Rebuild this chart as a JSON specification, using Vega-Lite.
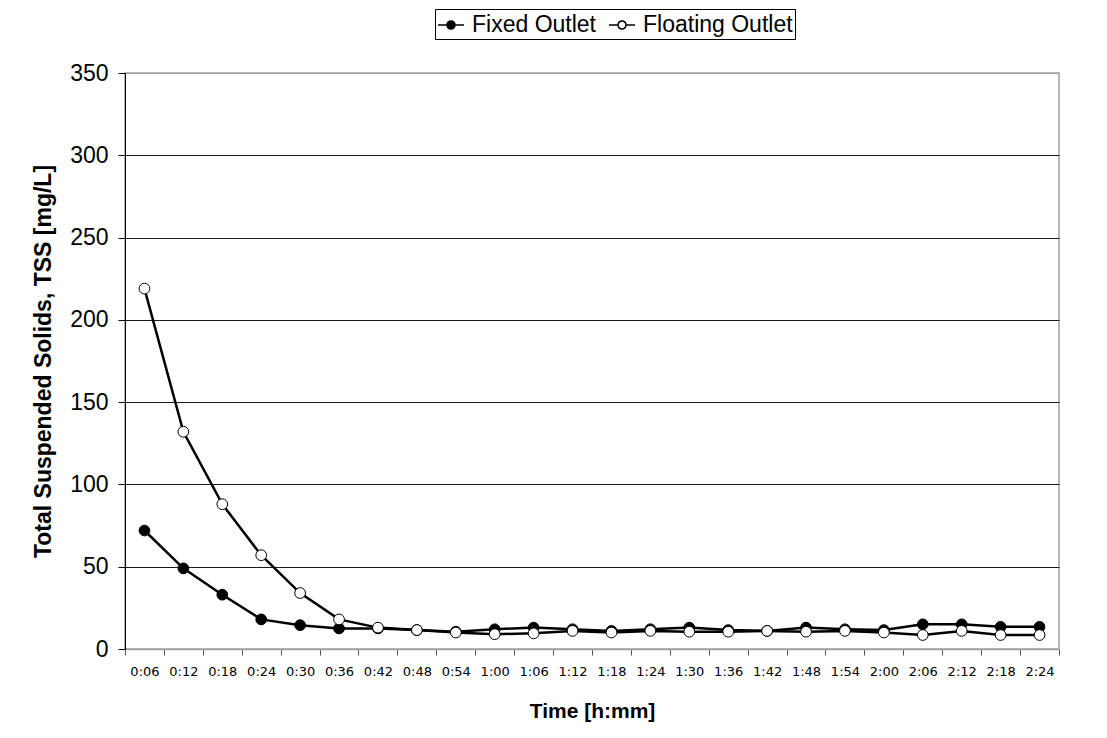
{
  "$schema": "https://vega.github.io/schema/vega-lite/v6.json",
  "width": 934,
  "height": 576,
  "autosize": {"type": "none"},
  "padding": {"left": 125, "top": 73, "right": 48, "bottom": 89},
  "background": "white",
  "config": {
    "font": "Liberation Sans",
    "view": {"stroke": "#a0a0a0", "strokeWidth": 1.5}
  },
  "data": {
    "values": [
      {"time": "0:06", "series": "Fixed Outlet", "tss": 72},
      {"time": "0:12", "series": "Fixed Outlet", "tss": 49},
      {"time": "0:18", "series": "Fixed Outlet", "tss": 33},
      {"time": "0:24", "series": "Fixed Outlet", "tss": 18},
      {"time": "0:30", "series": "Fixed Outlet", "tss": 14.5},
      {"time": "0:36", "series": "Fixed Outlet", "tss": 12.5},
      {"time": "0:42", "series": "Fixed Outlet", "tss": 12.5},
      {"time": "0:48", "series": "Fixed Outlet", "tss": 11.5},
      {"time": "0:54", "series": "Fixed Outlet", "tss": 10.5},
      {"time": "1:00", "series": "Fixed Outlet", "tss": 12},
      {"time": "1:06", "series": "Fixed Outlet", "tss": 13},
      {"time": "1:12", "series": "Fixed Outlet", "tss": 12},
      {"time": "1:18", "series": "Fixed Outlet", "tss": 11},
      {"time": "1:24", "series": "Fixed Outlet", "tss": 12},
      {"time": "1:30", "series": "Fixed Outlet", "tss": 13},
      {"time": "1:36", "series": "Fixed Outlet", "tss": 11.5},
      {"time": "1:42", "series": "Fixed Outlet", "tss": 11},
      {"time": "1:48", "series": "Fixed Outlet", "tss": 13},
      {"time": "1:54", "series": "Fixed Outlet", "tss": 12},
      {"time": "2:00", "series": "Fixed Outlet", "tss": 11.5},
      {"time": "2:06", "series": "Fixed Outlet", "tss": 15},
      {"time": "2:12", "series": "Fixed Outlet", "tss": 15},
      {"time": "2:18", "series": "Fixed Outlet", "tss": 13.5},
      {"time": "2:24", "series": "Fixed Outlet", "tss": 13.5},
      {"time": "0:06", "series": "Floating Outlet", "tss": 219},
      {"time": "0:12", "series": "Floating Outlet", "tss": 132},
      {"time": "0:18", "series": "Floating Outlet", "tss": 88},
      {"time": "0:24", "series": "Floating Outlet", "tss": 57},
      {"time": "0:30", "series": "Floating Outlet", "tss": 34},
      {"time": "0:36", "series": "Floating Outlet", "tss": 18},
      {"time": "0:42", "series": "Floating Outlet", "tss": 13},
      {"time": "0:48", "series": "Floating Outlet", "tss": 11.5},
      {"time": "0:54", "series": "Floating Outlet", "tss": 10},
      {"time": "1:00", "series": "Floating Outlet", "tss": 9},
      {"time": "1:06", "series": "Floating Outlet", "tss": 9.5},
      {"time": "1:12", "series": "Floating Outlet", "tss": 11},
      {"time": "1:18", "series": "Floating Outlet", "tss": 10},
      {"time": "1:24", "series": "Floating Outlet", "tss": 11},
      {"time": "1:30", "series": "Floating Outlet", "tss": 10.5},
      {"time": "1:36", "series": "Floating Outlet", "tss": 10.5},
      {"time": "1:42", "series": "Floating Outlet", "tss": 11},
      {"time": "1:48", "series": "Floating Outlet", "tss": 10.5},
      {"time": "1:54", "series": "Floating Outlet", "tss": 11},
      {"time": "2:00", "series": "Floating Outlet", "tss": 10},
      {"time": "2:06", "series": "Floating Outlet", "tss": 8.5},
      {"time": "2:12", "series": "Floating Outlet", "tss": 11},
      {"time": "2:18", "series": "Floating Outlet", "tss": 8.5},
      {"time": "2:24", "series": "Floating Outlet", "tss": 8.5}
    ]
  },
  "encoding": {
    "x": {
      "field": "time",
      "type": "ordinal",
      "sort": null,
      "bandPosition": 0.5,
      "scale": {"type": "band", "paddingInner": 0, "paddingOuter": 0},
      "axis": {
        "title": "Time [h:mm]",
        "titleFontSize": 21,
        "titleFontWeight": "bold",
        "titleColor": "black",
        "titlePadding": 22,
        "labelAngle": 0,
        "labelFont": "DejaVu Sans",
        "labelFontSize": 13,
        "labelColor": "black",
        "labelPadding": 10,
        "tickBand": "extent",
        "tickColor": "#555",
        "tickSize": 6,
        "domainColor": "#a0a0a0",
        "domainWidth": 1.5,
        "grid": false
      }
    },
    "y": {
      "field": "tss",
      "type": "quantitative",
      "scale": {"domain": [0, 350], "nice": false},
      "axis": {
        "title": "Total Suspended Solids, TSS [mg/L]",
        "titleFontSize": 23,
        "titleFontWeight": "bold",
        "titleColor": "black",
        "titlePadding": 14,
        "values": [0, 50, 100, 150, 200, 250, 300, 350],
        "labelFontSize": 23,
        "labelColor": "black",
        "labelPadding": 10,
        "tickColor": "black",
        "tickSize": 7,
        "domainColor": "black",
        "domainWidth": 1,
        "grid": true,
        "gridColor": {"condition": {"test": "datum.value === 350 || datum.value === 0", "value": "#a0a0a0"}, "value": "#1a1a1a"},
        "gridWidth": 1
      }
    }
  },
  "layer": [
    {
      "mark": {"type": "line", "color": "black", "strokeWidth": 2.5},
      "encoding": {"detail": {"field": "series"}}
    },
    {
      "mark": {"type": "point", "filled": false, "shape": "circle", "size": 115, "stroke": "black", "strokeWidth": 1, "opacity": 1},
      "encoding": {
        "fill": {
          "field": "series",
          "type": "nominal",
          "scale": {"domain": ["Fixed Outlet", "Floating Outlet"], "range": ["black", "white"]},
          "legend": {
            "title": null,
            "orient": "none",
            "legendX": 310,
            "legendY": -64,
            "direction": "horizontal",
            "strokeColor": "black",
            "padding": 2,
            "labelFontSize": 23,
            "labelColor": "black",
            "labelOffset": 7,
            "columnPadding": 10,
            "symbolType": "M-1,0L-0.31,0M0.31,0L1,0M0.31,0A0.31,0.31 0 1,1 -0.31,0A0.31,0.31 0 1,1 0.31,0",
            "symbolSize": 676,
            "symbolStrokeColor": "black",
            "symbolStrokeWidth": 1.5,
            "symbolOpacity": 1
          }
        }
      }
    }
  ]
}
